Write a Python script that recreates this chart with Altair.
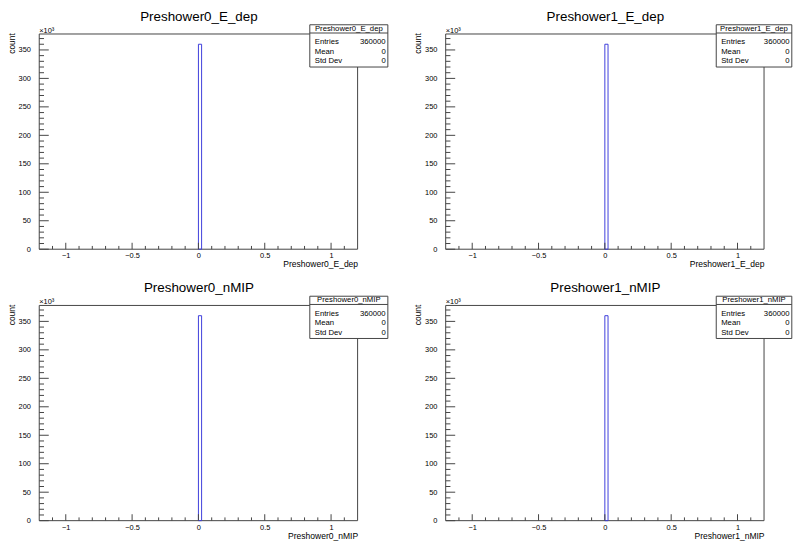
import altair as alt
import pandas as pd

# ---------------- data ----------------
hist_names = ["Preshower0_E_dep", "Preshower1_E_dep", "Preshower0_nMIP", "Preshower1_nMIP"]
bin_low = [0.0, 0.0, 0.0, 0.0]
bin_high = [0.024, 0.024, 0.024, 0.024]
bin_count_k = [360.0, 360.0, 360.0, 360.0]   # bin content in units of 10^3
entries = [360000, 360000, 360000, 360000]
means = [0, 0, 0, 0]
std_devs = [0, 0, 0, 0]
stat_labels = ["Entries", "Mean", "Std Dev"]

x_domain = [-1.2, 1.2]
y_domain = [0, 378]
x_major = [-1, -0.5, 0, 0.5, 1]
x_minor = [-1.1, -0.9, -0.8, -0.7, -0.6, -0.4, -0.3, -0.2, -0.1,
           0.1, 0.2, 0.3, 0.4, 0.6, 0.7, 0.8, 0.9, 1.1]
y_major = [0, 50, 100, 150, 200, 250, 300, 350]
y_minor = [10, 20, 30, 40, 60, 70, 80, 90, 110, 120, 130, 140, 160, 170, 180, 190,
           210, 220, 230, 240, 260, 270, 280, 290, 310, 320, 330, 340, 360, 370]
y_exponent = "3"
y_title = "count"

# ---------------- style ----------------
W, H = 321, 217
FONT = "Liberation Sans"
FRAME = "#444444"
BLUE = "#3f3fdc"
SUP = {"3": "\u00b3"}
# white background cell extents (fix the layout of every panel)
EXT_L, EXT_T = 34, 27

xs = alt.Scale(domain=x_domain, nice=False, zero=False)
ys = alt.Scale(domain=y_domain, nice=False, zero=False)


def panel(i, ext_r, ext_b, bx1):
    name = hist_names[i]
    hist = pd.DataFrame({"lo": [bin_low[i]], "hi": [bin_high[i]],
                         "n": [bin_count_k[i]], "base": [0.0]})
    one = pd.DataFrame({"name": [name], "exp": ["\u00d710" + SUP[y_exponent]],
                        "labels": ["\n".join(stat_labels)],
                        "values": ["\n".join([str(entries[i]), str(means[i]), str(std_devs[i])])]})

    xaxis = alt.Axis(values=x_major, format="~g", ticks=False, domain=False, grid=False,
                     labelFont=FONT, labelFontSize=7.5, labelColor="black", labelPadding=2.5,
                     labelFlush=False, zindex=1,
                     title=name, titleFont=FONT, titleFontSize=8.6, titleFontWeight="normal",
                     titleColor="black", titleX=W, titleY=17.5, titleAlign="right",
                     titleBaseline="alphabetic")
    yaxis = alt.Axis(values=y_major, format="d", ticks=False, domain=False, grid=False,
                     labelFont=FONT, labelFontSize=7.5, labelColor="black", labelPadding=8.8,
                     zindex=1,
                     title=y_title, titleFont=FONT, titleFontSize=8.5, titleFontWeight="normal",
                     titleColor="black", titleAngle=270, titleX=-25, titleY=-1.3,
                     titleAlign="right", titleBaseline="alphabetic")

    cell = alt.Chart(one).mark_rect(fill="white", strokeWidth=0).encode(
        x=alt.value(-EXT_L), x2=alt.value(W + ext_r), y=alt.value(-EXT_T), y2=alt.value(H + ext_b))

    frame = alt.Chart(one).mark_rect(fillOpacity=0, stroke=FRAME, strokeWidth=1).encode(
        x=alt.value(0), x2=alt.value(W), y=alt.value(0), y2=alt.value(H))

    bar = alt.Chart(hist).mark_rect(fillOpacity=0, stroke=BLUE, strokeWidth=1).encode(
        x=alt.X("lo:Q", scale=xs, axis=xaxis),
        x2="hi:Q",
        y=alt.Y("n:Q", scale=ys, axis=yaxis),
        y2="base:Q",
    )

    xmaj = alt.Chart(pd.DataFrame({"lo": x_major})).mark_rule(color=FRAME, strokeWidth=1).encode(
        x=alt.X("lo:Q", scale=xs, axis=xaxis), y=alt.value(H), y2=alt.value(H - 6.5))
    xmin = alt.Chart(pd.DataFrame({"lo": x_minor})).mark_rule(color=FRAME, strokeWidth=1).encode(
        x=alt.X("lo:Q", scale=xs, axis=xaxis), y=alt.value(H), y2=alt.value(H - 3.3))
    ymaj = alt.Chart(pd.DataFrame({"n": y_major})).mark_rule(color=FRAME, strokeWidth=1).encode(
        y=alt.Y("n:Q", scale=ys, axis=yaxis), x=alt.value(0), x2=alt.value(9.6))
    ymin = alt.Chart(pd.DataFrame({"n": y_minor})).mark_rule(color=FRAME, strokeWidth=1).encode(
        y=alt.Y("n:Q", scale=ys, axis=yaxis), x=alt.value(0), x2=alt.value(4.8))

    title = alt.Chart(one).mark_text(align="center", baseline="alphabetic", font=FONT,
                                     fontSize=13.5, color="black").encode(
        x=alt.value(W / 2 + 0.5), y=alt.value(-13.3), text="name:N")

    exp = alt.Chart(one).mark_text(align="left", baseline="alphabetic", font=FONT,
                                   fontSize=7.5, color="black").encode(
        x=alt.value(0), y=alt.value(-1.5), text="exp:N")

    bx0, by0, by1 = 272.8, -9.3, 33.3
    box = alt.Chart(one).mark_rect(fill="white", stroke=FRAME, strokeWidth=1).encode(
        x=alt.value(bx0), x2=alt.value(bx1), y=alt.value(by0), y2=alt.value(by1))
    sep = alt.Chart(one).mark_rule(color=FRAME, strokeWidth=1).encode(
        x=alt.value(bx0), x2=alt.value(bx1), y=alt.value(-1))
    header = alt.Chart(one).mark_text(align="center", baseline="alphabetic", font=FONT,
                                      fontSize=7.8, color="black").encode(
        x=alt.value((bx0 + bx1) / 2), y=alt.value(-3.2), text="name:N")
    labels = alt.Chart(one).mark_text(align="left", baseline="alphabetic", font=FONT,
                                      fontSize=7.8, color="black", lineBreak="\n",
                                      lineHeight=9.7).encode(
        x=alt.value(bx0 + 5), y=alt.value(10.3), text="labels:N")
    values = alt.Chart(one).mark_text(align="right", baseline="alphabetic", font=FONT,
                                      fontSize=7.8, color="black", lineBreak="\n",
                                      lineHeight=9.7).encode(
        x=alt.value(bx1 - 2.2), y=alt.value(10.3), text="values:N")

    return alt.layer(cell, frame, bar, xmaj, xmin, ymaj, ymin, title, exp,
                     box, sep, header, labels, values).properties(width=W, height=H)


LEFT_EXT_R, RIGHT_EXT_R = 40, 28.5
TOP_EXT_B, BOTTOM_EXT_B = 22, 19
LEFT_BOX_X1, RIGHT_BOX_X1 = 351.5, 349.0

COL_GAP = 409.8 - W - LEFT_EXT_R - EXT_L
ROW_GAP = 273.7 - H - TOP_EXT_B - EXT_T
row1 = alt.hconcat(panel(0, LEFT_EXT_R, TOP_EXT_B, LEFT_BOX_X1),
                   panel(1, RIGHT_EXT_R, TOP_EXT_B, RIGHT_BOX_X1), spacing=COL_GAP)
row2 = alt.hconcat(panel(2, LEFT_EXT_R, BOTTOM_EXT_B, LEFT_BOX_X1),
                   panel(3, RIGHT_EXT_R, BOTTOM_EXT_B, RIGHT_BOX_X1), spacing=COL_GAP)
chart = alt.vconcat(row1, row2, spacing=ROW_GAP).properties(
    padding={"left": -2.5, "top": -3, "right": 0, "bottom": 0},
    background="white",
).configure_view(strokeWidth=0)

chart.save("out.html", embed_options={"renderer": "svg", "actions": False})
